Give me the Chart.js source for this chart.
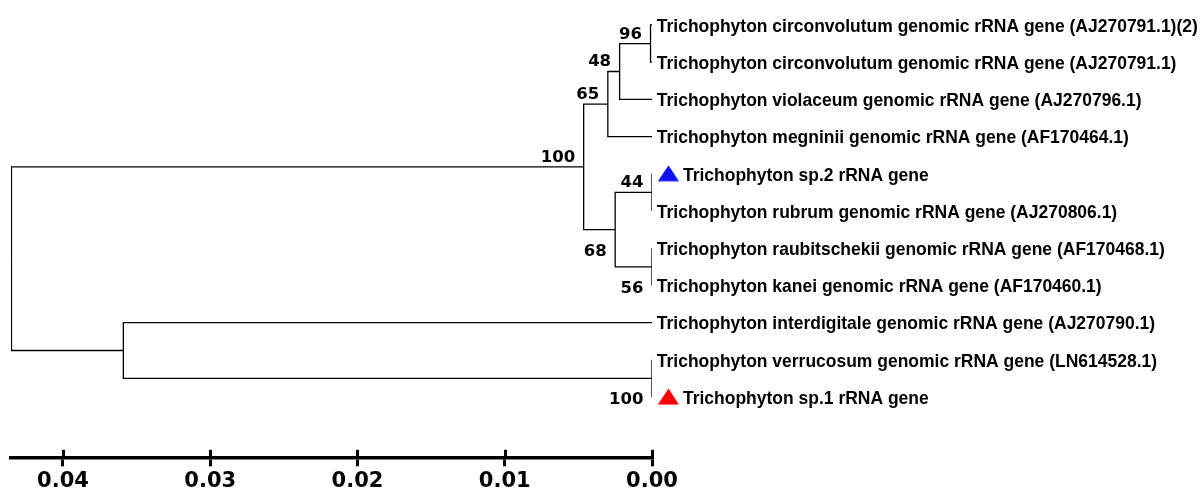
<!DOCTYPE html>
<html><head><meta charset="utf-8">
<script src="https://cdn.jsdelivr.net/npm/chart.js@4.4.1/dist/chart.umd.min.js"></script>
<style>html,body{margin:0;padding:0;background:#fff;overflow:hidden}#wrap{width:1201px;height:489px}</style>
</head><body><div id="wrap"><canvas id="c" width="1201" height="489"></canvas></div>
<script>
// ---------- data ----------
const leafNames = [
  'Trichophyton circonvolutum genomic rRNA gene (AJ270791.1)(2)',
  'Trichophyton circonvolutum genomic rRNA gene (AJ270791.1)',
  'Trichophyton violaceum genomic rRNA gene (AJ270796.1)',
  'Trichophyton megninii genomic rRNA gene (AF170464.1)',
  'Trichophyton sp.2 rRNA gene',
  'Trichophyton rubrum genomic rRNA gene (AJ270806.1)',
  'Trichophyton raubitschekii genomic rRNA gene (AF170468.1)',
  'Trichophyton kanei genomic rRNA gene (AF170460.1)',
  'Trichophyton interdigitale genomic rRNA gene (AJ270790.1)',
  'Trichophyton verrucosum genomic rRNA gene (LN614528.1)',
  'Trichophyton sp.1 rRNA gene'
];
const leafMarkers = [null, null, null, null, '#1010f5', null, null, null, null, null, '#ff0000'];
const nodeIds      = ['A', 'B', 'C', 'D', 'E', 'F', 'G', 'H', 'I', 'R'];
const nodeHeights  = [0.0001, 0.0022, 0.0030, 0.00464, 0.0025, 0, 0, 0.0359, 0, 0.0435];
const nodeChildren = [['L0','L1'], ['A','L2'], ['B','L3'], ['C','E'], ['F','G'],
                      ['L4','L5'], ['L6','L7'], ['L8','I'], ['L9','L10'], ['D','H']];
const nodeSupport  = [96, 48, 65, 100, 68, 44, 56, null, 100, null];
const tickValues = [0.04, 0.03, 0.02, 0.01, 0.00];
const tickLabels = ['0.04', '0.03', '0.02', '0.01', '0.00'];

// ---------- tree layout (from structure) ----------
const pos = {};
leafNames.forEach((n, i) => pos['L' + i] = {x: 0, y: i});
const childRank = {};
nodeChildren.forEach((ch, k) => ch.forEach((c, j) => { childRank[c] = j; }));
function place(id) {
  if (pos[id]) return pos[id];
  const k = nodeIds.indexOf(id);
  const ch = nodeChildren[k].map(place);
  pos[id] = {x: nodeHeights[k], y: (ch[0].y + ch[ch.length - 1].y) / 2};
  return pos[id];
}
place('R');

const LINE = '#000';
const datasets = [];
nodeIds.forEach((id, k) => {
  const p = pos[id];
  nodeChildren[k].forEach(c => {
    const q = pos[c];
    datasets.push({
      type: 'scatter', showLine: true, pointRadius: 0, borderColor: LINE, borderWidth: 1.3,
      data: [{x: p.x, y: p.y}, {x: p.x, y: q.y}, {x: q.x, y: q.y}]
    });
  });
});

// triangle markers as point styles (drawn beside the tip)
function triCanvas(color) {
  const cv = document.createElement('canvas');
  cv.width = 56; cv.height = 18;
  const g = cv.getContext('2d');
  g.fillStyle = color;
  g.beginPath();
  g.moveTo(28 + 16.5, 0.5);
  g.lineTo(28 + 5.8, 16.5);
  g.lineTo(28 + 27, 16.5);
  g.closePath();
  g.fill();
  return cv;
}
const markerPts = [], markerStyles = [];
leafMarkers.forEach((m, i) => { if (m) { markerPts.push({x: 0, y: i}); markerStyles.push(triCanvas(m)); } });
datasets.push({type: 'scatter', data: markerPts, pointStyle: markerStyles, pointRadius: 5, clip: false, showLine: false});

// ---------- labels plugin ----------
const labelPlugin = {
  id: 'treeLabels',
  afterDraw(chart) {
    const ctx = chart.ctx, xs = chart.scales.x, ys = chart.scales.y;
    ctx.save();
    // upward stubs of the scale ticks
    ctx.strokeStyle = '#000'; ctx.lineWidth = 3;
    xs.ticks.forEach(t => {
      const px = Math.round(xs.getPixelForValue(t.value)) + 0.5;
      ctx.beginPath(); ctx.moveTo(px, xs.top - 7.5); ctx.lineTo(px, xs.top); ctx.stroke();
    });
    // leaf labels
    ctx.fillStyle = '#000';
    ctx.font = "bold 19px 'Liberation Sans Narrow', 'Liberation Sans', Arial, sans-serif";
    ctx.textBaseline = 'alphabetic'; ctx.textAlign = 'left';
    const w0 = ctx.measureText(leafNames[0]).width;
    const sx = 541 / w0;
    const tipX = xs.getPixelForValue(0);
    leafNames.forEach((name, i) => {
      const py = ys.getPixelForValue(i);
      const lx = tipX + (leafMarkers[i] ? 31 : 4.8);
      ctx.save(); ctx.translate(lx, py + 6.8); ctx.scale(sx, 1);
      ctx.fillText(name, 0, 0); ctx.restore();
    });
    // bootstrap values
    ctx.font = "bold 16.5px 'DejaVu Sans', sans-serif";
    ctx.textAlign = 'right';
    nodeIds.forEach((id, k) => {
      if (nodeSupport[k] == null) return;
      const p = pos[id];
      const px = xs.getPixelForValue(p.x), py = ys.getPixelForValue(p.y);
      const below = childRank[id] === 1;
      ctx.fillText(String(nodeSupport[k]), px - 8.5, below ? py + 26 : py - 5);
    });
    ctx.restore();
  }
};

new Chart(document.getElementById('c'), {
  type: 'scatter',
  data: {datasets},
  options: {
    responsive: false, animation: false, events: [],
    layout: {padding: {left: 11, right: 549, top: 4, bottom: -8.7}},
    plugins: {legend: {display: false}, tooltip: {enabled: false}},
    scales: {
      x: {
        type: 'linear', reverse: true, min: 0, max: 0.04353,
        afterBuildTicks: s => { s.ticks = tickValues.map(v => ({value: v})); },
        ticks: {
          callback: (v, i) => tickLabels[i],
          font: {family: 'DejaVu Sans', weight: 'bold', size: 21, lineHeight: 1},
          color: '#000', padding: 5.2, maxRotation: 0, autoSkip: false
        },
        grid: {drawOnChartArea: false, drawTicks: true, tickLength: 9, lineWidth: 3, color: '#000'},
        border: {display: true, width: 3.5, color: '#000'}
      },
      y: {type: 'linear', display: false, reverse: true, min: -0.51, max: 11.62}
    }
  },
  plugins: [labelPlugin]
});
</script>
</body></html>
